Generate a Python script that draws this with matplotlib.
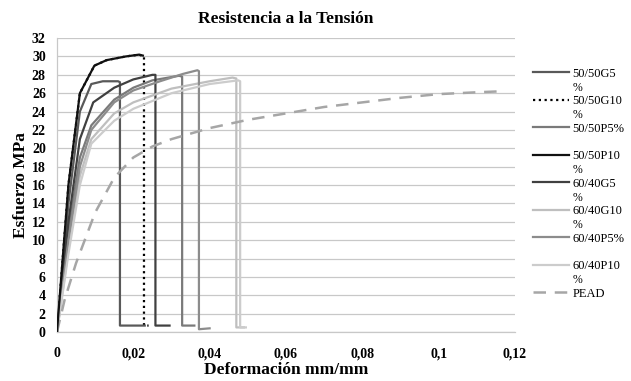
#Curvas esfuerzo-deformacion

#import packages
import numpy as np
import matplotlib
matplotlib.use('Agg')
import matplotlib.pyplot as plt

plt.rcParams['font.family'] = ['Liberation Serif', 'DejaVu Serif']

#series names (Excel wraps the trailing % on some of them)
names = ['50/50G5%', '50/50G10%', '50/50P5%', '50/50P10%', '60/40G5%',
         '60/40G10%', '60/40P5%', '60/40P10%', 'PEAD']
wrapped = [True, True, False, True, True, True, False, True, False]

#deformation / stress
x_5050G5 = [0, 0.003, 0.006, 0.009, 0.012, 0.016, 0.0165, 0.0165, 0.023]
y_5050G5 = [0, 14, 24, 27, 27.3, 27.3, 27.2, 0.7, 0.7]

x_5050P10 = [0, 0.003, 0.006, 0.0098, 0.013, 0.018, 0.0215, 0.0225]
y_5050P10 = [0, 16, 26, 29, 29.6, 30.0, 30.2, 30.1]

x_5050G10 = [0, 0.003, 0.006, 0.0098, 0.013, 0.018, 0.0215, 0.0228, 0.0228, 0.024]
y_5050G10 = [0, 16, 26, 29, 29.6, 30.0, 30.2, 30.0, 0.7, 0.7]

x_6040G5 = [0, 0.003, 0.006, 0.0095, 0.015, 0.02, 0.025, 0.0258, 0.0258, 0.0295]
y_6040G5 = [0, 12, 21, 25, 26.6, 27.5, 28, 28, 0.7, 0.7]

x_5050P5 = [0, 0.003, 0.006, 0.009, 0.015, 0.02, 0.025, 0.032, 0.0328, 0.0328, 0.036]
y_5050P5 = [0, 11, 19, 22.5, 25.3, 26.6, 27.4, 27.9, 27.8, 0.7, 0.7]

x_6040P5 = [0, 0.003, 0.006, 0.009, 0.015, 0.02, 0.027, 0.033, 0.0368, 0.0372, 0.0372, 0.040]
y_6040P5 = [0, 10, 18, 22, 25, 26.3, 27.3, 28.1, 28.5, 28.4, 0.3, 0.4]

x_6040G10 = [0, 0.003, 0.006, 0.009, 0.015, 0.02, 0.03, 0.04, 0.046, 0.047, 0.047, 0.049]
y_6040G10 = [0, 9, 17, 21, 23.8, 25, 26.5, 27.3, 27.7, 27.6, 0.5, 0.5]

x_6040P10 = [0, 0.003, 0.006, 0.009, 0.015, 0.02, 0.03, 0.04, 0.0475, 0.048, 0.048, 0.0495]
y_6040P10 = [0, 8.5, 16, 20.5, 23, 24.3, 26, 27, 27.4, 27.3, 0.5, 0.5]

x_pead = [0, 0.002, 0.005, 0.01, 0.015, 0.02, 0.025, 0.03, 0.04, 0.05, 0.06,
          0.07, 0.08, 0.09, 0.1, 0.11, 0.116]
y_pead = [0, 3.5, 7.5, 13, 16.8, 19, 20.2, 21, 22.2, 23.1, 23.8,
          24.5, 25, 25.5, 25.9, 26.1, 26.2]

xticks = [0, 0.02, 0.04, 0.06, 0.08, 0.1, 0.12]
xticklabels = ['0', '0,02', '0,04', '0,06', '0,08', '0,1', '0,12']
yticks = list(range(0, 33, 2))

fig = plt.figure(figsize=(6.31, 3.81), dpi=100)
ax = fig.add_axes([0.0903, 0.1286, 0.7257, 0.7714])

lw = 1.6
#dotted series sits under the solid black one
l2, = ax.plot(x_5050G10, y_5050G10, color='#000000', lw=1.6, ls=(0, (1, 1.6)), zorder=2)
l1, = ax.plot(x_5050G5, y_5050G5, color='#595959', lw=lw, zorder=3)
l3, = ax.plot(x_5050P5, y_5050P5, color='#7a7a7a', lw=lw, zorder=3)
l4, = ax.plot(x_5050P10, y_5050P10, color='#111111', lw=lw, zorder=4)
l5, = ax.plot(x_6040G5, y_6040G5, color='#404040', lw=lw, zorder=3)
l6, = ax.plot(x_6040G10, y_6040G10, color='#bfbfbf', lw=lw, zorder=3)
l7, = ax.plot(x_6040P5, y_6040P5, color='#8c8c8c', lw=lw, zorder=3)
l8, = ax.plot(x_6040P10, y_6040P10, color='#cccccc', lw=lw, zorder=3)
l9, = ax.plot(x_pead, y_pead, color='#a6a6a6', lw=1.8, ls=(0, (5, 3.5)), zorder=3)

ax.set_xlim(0, 0.12)
ax.set_ylim(0, 32)
ax.set_xticks(xticks)
ax.set_xticklabels(xticklabels)
ax.set_yticks(yticks)
ax.tick_params(axis='both', length=0, labelsize=10)
ax.tick_params(axis='x', pad=11)
ax.tick_params(axis='y', pad=8)
for lab in ax.get_xticklabels() + ax.get_yticklabels():
    lab.set_fontweight('bold')

ax.grid(axis='y', color='#c8c8c8', lw=0.9)
ax.set_axisbelow(True)
for s in ['top', 'right']:
    ax.spines[s].set_visible(False)
for s in ['left', 'bottom']:
    ax.spines[s].set_color('#c8c8c8')
    ax.spines[s].set_linewidth(0.9)

ax.set_title('Resistencia a la Tensión', fontsize=12.5, fontweight='bold', pad=11)
ax.set_xlabel('Deformación mm/mm', fontsize=12.5, fontweight='bold', labelpad=1)
ax.set_ylabel('Esfuerzo MPa', fontsize=12.5, fontweight='bold', labelpad=2)

handles = [l1, l2, l3, l4, l5, l6, l7, l8, l9]
labels = [n[:-1] if w else n for n, w in zip(names, wrapped)]
leg = fig.legend(handles, labels, loc='upper left', bbox_to_anchor=(0.837, 0.835),
                 frameon=False, fontsize=9, handlelength=2.85, handletextpad=0.3,
                 labelspacing=1.24, borderaxespad=0)

#the wrapped "%" goes under its label
fig.canvas.draw()
for t, w in zip(leg.get_texts(), wrapped):
    if w:
        bb = t.get_window_extent()
        fig.text(bb.x0, bb.y0 - 2, '%', transform=None, fontsize=8.5,
                 va='top', ha='left')

fig.savefig('out.png', dpi=100)
